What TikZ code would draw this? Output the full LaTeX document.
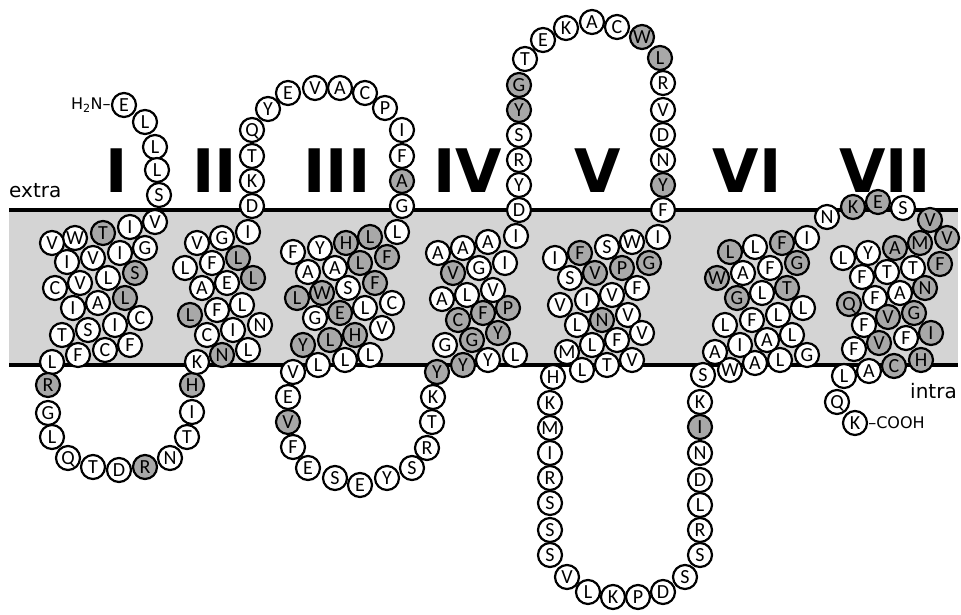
\documentclass[tikz,border=0pt]{standalone}
\usepackage{fontspec}
\setmainfont{Carlito}
\newfontfamily\labelfont{DejaVu Sans}
\usetikzlibrary{positioning}
\definecolor{resg}{gray}{0.66}
\colorlet{resw}{white}
\definecolor{membr}{gray}{0.83}
\tikzset{
  res/.style={
    circle,
    draw,
    line width=2.2pt,
    minimum size=24pt,
    inner sep=0pt,
    text height=12.8pt,
    text depth=0pt,
    font=\fontsize{20}{20}\selectfont
  },
  helixnum/.style={
    anchor=base,
    inner sep=0pt,
    font=\labelfont\bfseries\fontsize{60}{60}\selectfont
  },
  sidelabel/.style={
    anchor=base west,
    inner sep=0pt,
    font=\labelfont\fontsize{20}{20}\selectfont
  },
  termlabel/.style={
    inner sep=0pt,
    font=\labelfont\fontsize{16}{16}\selectfont
  },
  bilayer/.style={
    line width=4pt
  }
}

\begin{document}
\begin{tikzpicture}[x=1pt,y=-1pt]
\useasboundingbox (0,0) rectangle (961,614);
% membrane
\fill[membr] (9,210) rectangle (958,365);
\draw[bilayer] (9,210) -- (958,210);
\draw[bilayer] (9,365) -- (958,365);
\node[sidelabel] (extra) at (9,197) {extra};
\node[sidelabel] (intra) at (910,398) {intra};
%
\foreach \x/\t [count=\i] in {117/I,215/II,337/III,468/IV,598/V,747/VI,885/VII}
  \node[helixnum] (hx\i) at (\x,192) {\t};
%
\foreach \x/\y/\l/\f [count=\i] in {124/105/E/w, 145/122/L/w, 155/147/L/w, 157/170/L/w, 159/195/S/w, 155/222/V/w}
  \node[res, fill=res\f] (nt\i) at (\x,\y) {\l};
\foreach \x/\y/\l/\f [count=\i] in {130/227/I/w, 103/233/T/g, 75/238/W/w, 52/243/V/w, 145/248/G/w, 120/253/I/w, 93/258/V/w, 67/262/I/w, 135/273/S/g, 108/278/L/w, 80/283/V/w, 55/288/C/w, 125/298/L/g, 98/303/A/w, 73/308/I/w, 140/318/C/w, 115/325/I/w, 88/330/S/w, 62/335/T/w, 130/345/F/w, 105/350/C/w, 78/355/F/w, 52/362/L/w}
  \node[res, fill=res\f] (tmi\i) at (\x,\y) {\l};
\foreach \x/\y/\l/\f [count=\i] in {48/385/R/g, 48/413/G/w, 52/437/L/w, 68/458/Q/w, 93/467/T/w, 119/470/D/w, 145/467/R/g, 170/458/N/w, 187/437/T/w, 192/412/I/w, 192/385/H/g}
  \node[res, fill=res\f] (ili\i) at (\x,\y) {\l};
\foreach \x/\y/\l/\f [count=\i] in {197/362/K/w, 222/355/N/g, 248/350/L/w, 207/335/C/w, 233/330/I/w, 260/325/N/w, 190/315/L/g, 217/310/F/w, 242/305/L/w, 202/288/A/w, 227/283/E/w, 253/278/L/g, 185/268/L/w, 212/263/F/w, 238/258/L/g, 197/243/V/w, 222/238/G/w, 248/232/I/w}
  \node[res, fill=res\f] (tmii\i) at (\x,\y) {\l};
\foreach \x/\y/\l/\f [count=\i] in {252/206/D/w, 252/181/K/w, 252/156/T/w, 252/130/Q/w, 268/109/Y/w, 288/93/E/w, 315/88/V/w, 340/88/A/w, 365/93/C/w, 385/108/P/w, 402/130/I/w, 402/156/F/w, 402/181/A/g, 402/206/G/w, 397/232/L/w}
  \node[res, fill=res\f] (eli\i) at (\x,\y) {\l};
\foreach \x/\y/\l/\f [count=\i] in {370/237/L/g, 346/243/H/g, 320/248/Y/w, 293/252/F/w, 387/257/F/g, 360/263/L/g, 335/268/A/w, 308/272/A/w, 375/283/F/g, 348/288/S/w, 322/293/W/g, 297/298/L/g, 392/303/C/w, 365/308/L/w, 340/313/E/g, 315/318/G/w, 382/328/V/w, 355/335/H/g, 330/340/L/g, 303/345/Y/g, 370/355/L/w, 345/360/L/w, 318/365/L/w, 293/372/V/w}
  \node[res, fill=res\f] (tmiii\i) at (\x,\y) {\l};
\foreach \x/\y/\l/\f [count=\i] in {288/397/E/w, 288/422/V/g, 293/447/F/w, 308/468/E/w, 335/478/S/w, 360/485/E/w, 387/478/Y/w, 412/468/S/w, 427/448/R/w, 432/422/T/w, 433/397/K/w}
  \node[res, fill=res\f] (ilii\i) at (\x,\y) {\l};
\foreach \x/\y/\l/\f [count=\i] in {437/372/Y/g, 463/365/Y/g, 488/360/Y/w, 515/355/L/w, 445/345/G/w, 472/340/G/g, 498/333/Y/g, 458/320/C/g, 483/313/F/g, 508/308/P/g, 442/299/A/w, 467/295/L/w, 493/290/V/w, 453/273/V/g, 479/268/G/w, 505/263/I/w, 438/253/A/w, 463/248/A/w, 488/242/A/w, 516/236/I/w}
  \node[res, fill=res\f] (tmiv\i) at (\x,\y) {\l};
\foreach \x/\y/\l/\f [count=\i] in {519/210/D/w, 519/185/Y/w, 519/160/R/w, 519/135/S/w, 519/110/Y/g, 519/85/G/g, 525/59/T/w, 543/40/E/w, 566/28/K/w, 592/22/A/w, 617/27/C/w, 642/37/W/g, 660/58/L/g, 663/83/R/w, 663/110/V/w, 663/135/D/w, 663/160/N/w, 663/185/Y/g, 663/210/F/w}
  \node[res, fill=res\f] (elii\i) at (\x,\y) {\l};
\foreach \x/\y/\l/\f [count=\i] in {658/237/I/w, 632/242/W/w, 607/247/S/w, 580/253/F/g, 555/258/I/w, 649/263/G/g, 622/268/P/g, 595/273/V/g, 570/278/S/w, 637/288/F/w, 612/295/V/w, 587/300/I/w, 560/305/V/w, 628/315/V/w, 602/320/N/g, 577/325/L/w, 642/333/V/w, 617/340/F/w, 592/345/L/w, 567/352/M/w, 632/360/V/w, 607/365/T/w, 582/370/L/w}
  \node[res, fill=res\f] (tmv\i) at (\x,\y) {\l};
\foreach \x/\y/\l/\f [count=\i] in {553/377/H/w, 550/403/K/w, 550/428/M/w, 550/453/I/w, 550/478/R/w, 550/503/S/w, 550/530/S/w, 550/555/S/w, 567/577/V/w, 588/592/L/w, 613/597/K/w, 638/597/P/w, 663/592/D/w, 685/577/S/w, 700/555/S/w, 700/530/R/w, 700/505/L/w, 700/480/D/w, 700/453/N/w, 700/427/I/g, 700/402/K/w}
  \node[res, fill=res\f] (iliii\i) at (\x,\y) {\l};
\foreach \x/\y/\l/\f [count=\i] in {703/375/S/w, 730/370/W/w, 755/363/A/w, 780/360/L/w, 807/355/G/w, 715/352/A/w, 740/345/I/w, 767/340/A/w, 792/335/L/w, 725/325/L/w, 752/320/F/w, 778/315/L/w, 803/308/L/w, 737/298/G/g, 762/293/L/w, 787/288/T/g, 717/278/W/g, 743/273/A/w, 770/268/F/w, 797/263/G/g, 730/252/L/g, 755/247/L/w, 782/243/F/g, 807/238/I/w}
  \node[res, fill=res\f] (tmvi\i) at (\x,\y) {\l};
\foreach \x/\y/\l/\f [count=\i] in {827/217/N/w, 853/207/K/g, 878/202/E/g, 903/208/S/w}
  \node[res, fill=res\f] (eliii\i) at (\x,\y) {\l};
\foreach \x/\y/\l/\f [count=\i] in {930/220/V/g, 947/238/V/g, 920/243/M/g, 895/248/A/g, 868/253/Y/w, 843/258/L/w, 940/264/F/g, 913/268/T/w, 887/272/T/w, 862/277/F/w, 925/288/N/g, 900/293/A/w, 875/298/F/w, 849/304/Q/g, 914/313/G/g, 888/317/V/g, 864/325/F/w, 931/333/I/g, 906/338/F/w, 879/343/V/g, 854/349/F/w, 921/360/H/g, 894/366/C/g, 869/371/A/w, 844/376/L/w}
  \node[res, fill=res\f] (tmvii\i) at (\x,\y) {\l};
\foreach \x/\y/\l/\f [count=\i] in {837/402/Q/w, 855/423/K/w}
  \node[res, fill=res\f] (ct\i) at (\x,\y) {\l};
%
\node[termlabel, left=0pt of nt1] (nh2) {H\textsubscript{2}N–};
\node[termlabel, right=0pt of ct2] (cooh) {–COOH};
\end{tikzpicture}
\end{document}
